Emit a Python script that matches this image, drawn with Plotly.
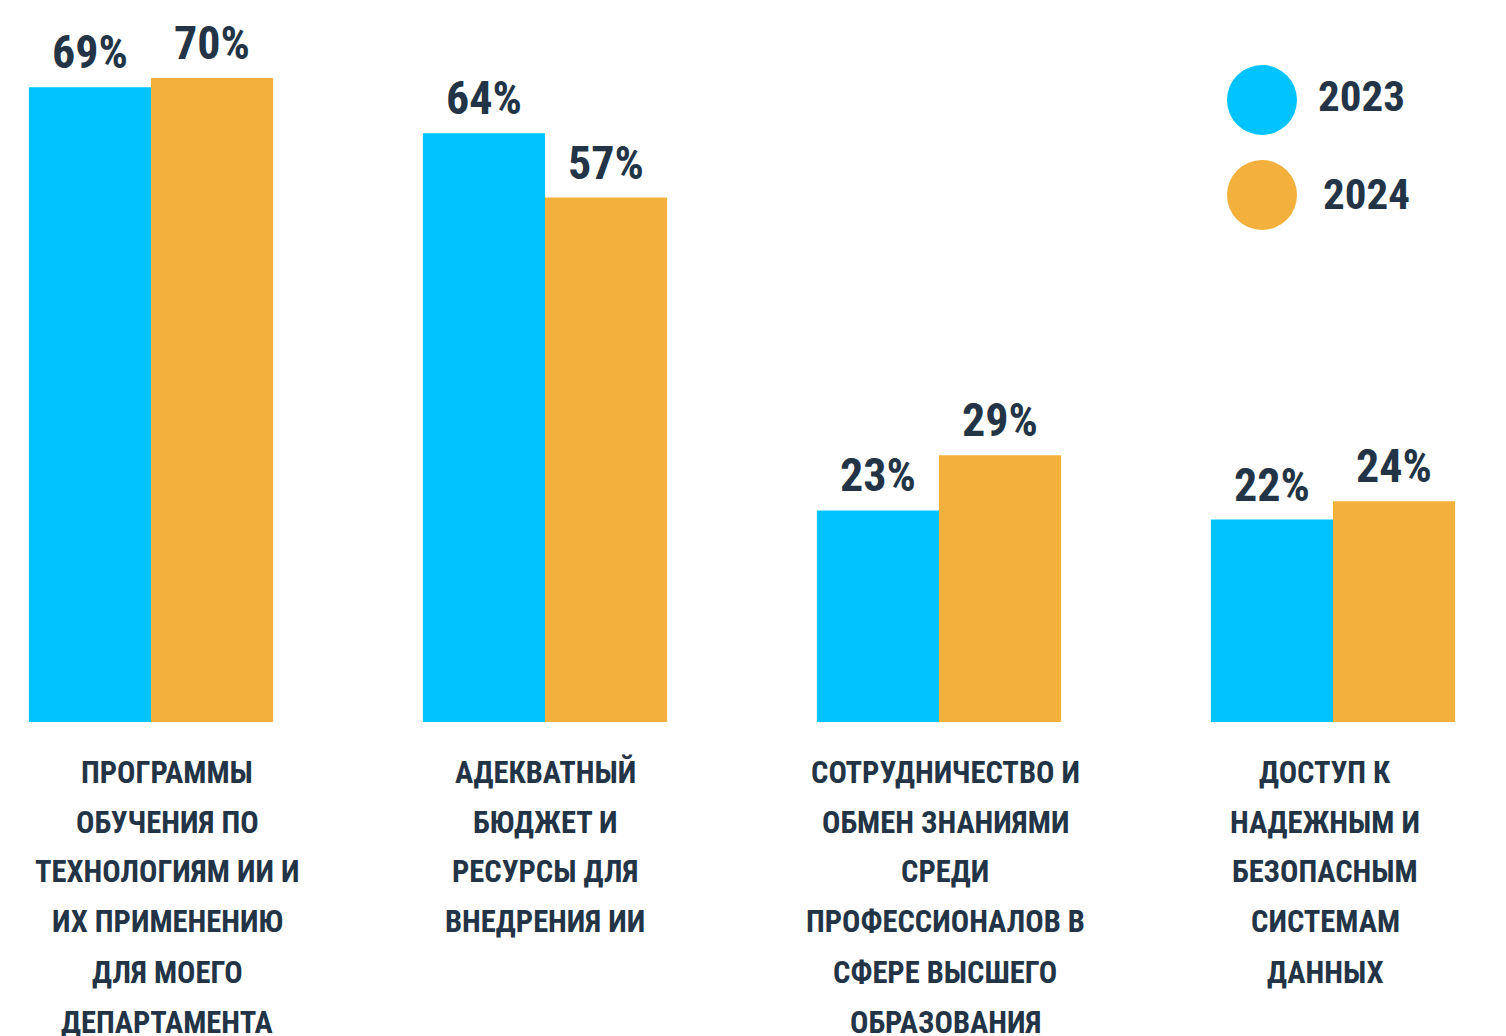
import plotly.graph_objects as go

# data
categories = [
    "ПРОГРАММЫ<br>ОБУЧЕНИЯ ПО<br>ТЕХНОЛОГИЯМ ИИ И<br>ИХ ПРИМЕНЕНИЮ<br>ДЛЯ МОЕГО<br>ДЕПАРТАМЕНТА",
    "АДЕКВАТНЫЙ<br>БЮДЖЕТ И<br>РЕСУРСЫ ДЛЯ<br>ВНЕДРЕНИЯ ИИ",
    "СОТРУДНИЧЕСТВО И<br>ОБМЕН ЗНАНИЯМИ<br>СРЕДИ<br>ПРОФЕССИОНАЛОВ В<br>СФЕРЕ ВЫСШЕГО<br>ОБРАЗОВАНИЯ",
    "ДОСТУП К<br>НАДЕЖНЫМ И<br>БЕЗОПАСНЫМ<br>СИСТЕМАМ<br>ДАННЫХ",
]
vals_2023 = [69, 64, 23, 22]
vals_2024 = [70, 57, 29, 24]
series_names = ["2023", "2024"]

C_BLUE = "#00C3FF"
C_ORANGE = "#F3B03C"
C_TEXT = "#223446"
FONT = "Roboto Condensed, Roboto, sans-serif"

# page has an 8px body margin, so the figure is a bit smaller than the window
W, H = 1498, 1028
PLOT_H = 714     # baseline of the bars (figure px)
PX_PER_PCT = 9.2
SLOT = 394       # px between group centres
X0 = 143         # centre of first group (figure px)
BARGAP = 0.38
label_dx = [16, 0, 6, -8]   # the category captions are not quite centred in the original

xs = list(range(len(categories)))
half = (1 - BARGAP) / 4     # offset of each bar centre from the group centre

fig = go.Figure()
for j, (name, vals, col) in enumerate([(series_names[0], vals_2023, C_BLUE),
                                       (series_names[1], vals_2024, C_ORANGE)]):
    fig.add_trace(go.Bar(
        x=xs, y=vals, name=name, marker=dict(color=col, line=dict(width=0)),
        hoverinfo="skip",
    ))
    # value labels above the bars
    sgn = -1 if j == 0 else 1
    for i, v in zip(xs, vals):
        fig.add_annotation(x=i + sgn * half, y=v, xref="x", yref="y",
                           text="<b>%d%%</b>" % v, showarrow=False,
                           xanchor="center", yanchor="bottom", yshift=6,
                           font=dict(family=FONT, size=46, color=C_TEXT))

# category labels, one annotation per line so the line pitch matches (50px)
for i, lab in enumerate(categories):
    for k, line in enumerate(lab.split("<br>")):
        fy = 764 + 50 * k
        fig.add_annotation(x=i, y=(PLOT_H - fy) / PLOT_H, xref="x", yref="paper",
                           xshift=label_dx[i],
                           text="<b>" + line + "</b>", showarrow=False,
                           xanchor="center", yanchor="middle",
                           font=dict(family=FONT, size=30.5, color=C_TEXT))

# legend drawn by hand: big dots + year labels
leg = [(series_names[0], C_BLUE, 92, 88, 1308), (series_names[1], C_ORANGE, 187, 186, 1313)]
for name, col, cy, ty, tx in leg:
    fig.add_shape(type="circle", xref="paper", yref="paper",
                  x0=(1254 - 35) / W, x1=(1254 + 35) / W,
                  y0=(PLOT_H - cy - 35) / PLOT_H, y1=(PLOT_H - cy + 35) / PLOT_H,
                  fillcolor=col, line=dict(width=0))
    fig.add_annotation(x=tx / W, y=(PLOT_H - ty) / PLOT_H, xref="paper", yref="paper",
                       text="<b>" + name + "</b>", showarrow=False,
                       xanchor="left", yanchor="middle",
                       font=dict(family=FONT, size=43, color=C_TEXT))

fig.update_layout(
    width=W, height=H,
    margin=dict(l=0, r=0, t=0, b=H - PLOT_H),
    paper_bgcolor="white", plot_bgcolor="white",
    barmode="group", bargap=BARGAP, bargroupgap=0,
    showlegend=False,
    xaxis=dict(range=[-X0 / SLOT, (W - X0) / SLOT], showticklabels=False,
               showgrid=False, zeroline=False, showline=False, fixedrange=True),
    yaxis=dict(range=[0, PLOT_H / PX_PER_PCT], showticklabels=False,
               showgrid=False, zeroline=False, showline=False, fixedrange=True),
)

fig.write_html("out.html")
